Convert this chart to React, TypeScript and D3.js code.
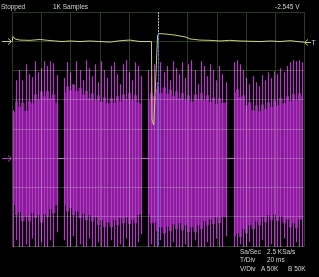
import React from "react";
import * as d3 from "d3";

// ---------------- data ----------------
const timeRangeMs = [0, 200];
const divRange = [-4, 4];
const timeGridMs = [0, 20, 40, 60, 80, 100, 120, 140, 160, 180, 200];
const divGrid = [-4, -3, -2, -1, 0, 1, 2, 3, 4];

const yellowOffsetDiv = 3;
const purpleOffsetDiv = -1;
const triggerMs = 100;

const statusText = "Stopped";
const samplesText = "1K Samples";
const readoutText = "-2.545 V";
const infoLabels = ["Sa/Sec", "T/Div", "V/Div"];
const infoValues = ["2.5 KSa/s", "20 ms", "A 50K"];
const infoExtra = ["", "", "B 50K"];

// channel A (yellow) trace, divisions relative to its ground marker
const yellowTimeMs = [0, 0.7, 2.0, 5.5, 12.3, 19.2, 24.6, 29.4, 34.2, 39.7, 46.5, 53.4, 60.2, 67.1, 72.5, 77.3, 80.7, 87.6, 94.4, 95.4, 95.8, 97.0, 99.6, 100.2, 104.7, 111.5, 118.4, 121.8, 128.6, 135.5, 142.3, 149.0, 156, 162.8, 169.7, 176.5, 183.4, 190.2, 197, 199.8];
const yellowDiv = [-0.03, 0.16, 0.08, 0.04, 0.03, 0.06, 0.03, 0.01, -0.01, 0.01, -0.01, 0.01, -0.01, -0.03, 0.01, 0.03, 0.04, -0.01, -0.01, -0.01, -2.69, -2.86, 0.18, 0.26, 0.25, 0.21, 0.15, 0.08, 0.04, 0.03, 0.01, 0.03, 0.01, 0.0, -0.01, 0.01, -0.01, 0.02, -0.02, -0.03];

// channel B (magenta) bursts, divisions relative to its ground marker
const burstStartMs = [0.82, 35.6, 93.1, 151.9];
const spikeStepMs = 2.12;

const burst1Top = [1.64, 2.67, 3.01, 2.67, 3.21, 2.87, 2.77, 3.32, 2.94, 3.08, 3.32, 3.15, 3.32, 3.25, 2.84];
const burst1DenseTop = [1.57, 1.95, 1.75, 1.9, 1.62, 1.95, 1.88, 2.18, 2.02, 2.28, 2.12, 2.3, 2.05, 2.18, 1.9];
const burst1DenseBottom = [-1.61, -1.95, -1.85, -2.15, -2.0, -2.15, -1.88, -2.05, -1.95, -2.2, -1.92, -2.0, -1.75, -1.88, -1.6];
const burst1Bottom = [-3.1, -2.8, -3.1, -3.1, -2.94, -3.1, -2.74, -3.1, -3.1, -2.87, -3.1, -3.1, -2.8, -3.1, -2.53];

const burst2Top = [2.74, 3.28, 2.94, 2.53, 3.32, 3.01, 2.67, 3.35, 3.08, 2.8, 3.21, 2.6, 3.32, 3.01, 2.74, 3.15, 3.28, 2.87, 2.53, 3.21, 3.35, 2.94, 2.67, 3.28, 3.15, 2.8];
const burst2DenseTop = [2.26, 2.45, 2.32, 2.52, 2.3, 2.4, 2.18, 2.3, 2.05, 2.22, 2.0, 2.15, 1.92, 2.08, 1.88, 2.05, 1.9, 2.12, 1.95, 2.18, 2.02, 2.22, 2.0, 2.15, 1.9, 1.85];
const burst2DenseBottom = [-1.61, -1.82, -1.7, -1.95, -1.82, -2.05, -1.9, -2.12, -1.95, -2.15, -2.02, -2.28, -2.12, -2.35, -2.2, -2.35, -2.12, -2.28, -2.05, -2.22, -2.02, -2.25, -2.1, -2.22, -1.95, -1.91];
const burst2Bottom = [-2.8, -3.1, -3.1, -2.67, -3.1, -2.94, -3.1, -3.1, -2.74, -3.1, -3.1, -2.87, -3.1, -3.1, -3.1, -2.8, -3.1, -3.1, -2.94, -3.1, -2.74, -3.1, -3.1, -3.1, -2.87, -2.6];

const burst3Top = [3.01, 2.8, 3.21, 2.6, 3.28, 2.94, 3.15, 2.67, 3.32, 3.08, 2.87, 3.28, 2.74, 3.21, 3.35, 3.01, 2.53, 3.32, 3.15, 2.8, 3.21, 3.01, 2.67, 3.15, 2.87, 2.6];
const burst3DenseTop = [1.98, 2.22, 2.12, 2.38, 2.22, 2.42, 2.2, 2.35, 2.12, 2.28, 2.05, 2.22, 2.0, 2.15, 1.95, 2.18, 2.02, 2.22, 2.0, 2.15, 1.92, 2.08, 1.85, 2.05, 1.9, 1.91];
const burst3DenseBottom = [-1.95, -2.22, -2.2, -2.48, -2.36, -2.56, -2.33, -2.49, -2.26, -2.42, -2.22, -2.46, -2.29, -2.53, -2.36, -2.53, -2.29, -2.42, -2.16, -2.29, -2.09, -2.25, -2.02, -2.22, -1.99, -2.02];
const burst3Bottom = [-3.1, -2.94, -3.1, -3.1, -2.8, -3.1, -3.1, -3.1, -2.87, -3.1, -3.1, -3.1, -2.94, -3.1, -3.1, -2.8, -3.1, -3.1, -3.1, -2.87, -3.1, -3.1, -2.74, -3.1, -3.1, -2.67];

const burst4Top = [3.28, 3.35, 3.21, 3.01, 2.74, 2.53, 2.8, 2.6, 2.46, 2.84, 2.67, 2.94, 2.74, 2.97, 2.87, 3.08, 2.94, 3.15, 3.28, 3.35, 3.32, 3.35, 3.28];
const burst4DenseTop = [2.26, 2.36, 2.09, 2.15, 1.81, 1.91, 1.64, 1.81, 1.61, 1.84, 1.68, 1.91, 1.75, 1.98, 1.81, 2.05, 1.88, 2.12, 1.95, 2.19, 1.99, 2.22, 2.12];
const burst4DenseBottom = [-2.67, -2.57, -2.7, -2.43, -2.56, -2.29, -2.42, -2.16, -2.29, -2.02, -2.19, -1.95, -2.12, -1.92, -2.15, -1.99, -2.22, -2.09, -2.36, -2.22, -2.39, -2.09, -2.12];
const burst4Bottom = [-3.1, -3.1, -2.94, -3.1, -3.1, -2.87, -3.1, -3.1, -3.1, -2.8, -3.1, -3.1, -2.94, -3.1, -3.1, -3.1, -2.74, -3.1, -3.1, -3.1, -2.87, -3.1, -3.1];

// ---------------- component ----------------
type Spike = { t: number; top: number; dTop: number; dBot: number; bot: number };

export default function App() {
  const W = 319;
  const H = 277;
  const left = 12, right = 304.3, top = 12, bottom = 246;

  const x = d3.scaleLinear().domain(timeRangeMs).range([left, right]);
  const y = d3.scaleLinear().domain(divRange).range([bottom, top]);
  const snap = (v: number) => Math.round(v) + 0.5;

  const burstArrays = [
    [burst1Top, burst1DenseTop, burst1DenseBottom, burst1Bottom],
    [burst2Top, burst2DenseTop, burst2DenseBottom, burst2Bottom],
    [burst3Top, burst3DenseTop, burst3DenseBottom, burst3Bottom],
    [burst4Top, burst4DenseTop, burst4DenseBottom, burst4Bottom],
  ];
  const bursts: Spike[][] = burstArrays.map(([tp, dt, db, bt], i) =>
    tp.map((v, k) => ({ t: burstStartMs[i] + k * spikeStepMs, top: v, dTop: dt[k], dBot: db[k], bot: bt[k] }))
  );

  const denseArea = d3
    .area<Spike>()
    .curve(d3.curveStep)
    .x((d) => snap(x(d.t)))
    .y0((d) => y(d.dBot + purpleOffsetDiv))
    .y1((d) => y(d.dTop + purpleOffsetDiv));

  const yellowPath = d3
    .line<number>()
    .x((_, i) => x(yellowTimeMs[i]))
    .y((d) => y(d + yellowOffsetDiv))(yellowDiv) as string;

  const baseY = y(purpleOffsetDiv);
  const yellowY = Math.floor(y(yellowOffsetDiv)) + 0.5;
  const purpleY = Math.floor(baseY) + 0.5;
  const trigX = snap(x(triggerMs));

  const yellow = "#c6cd76";
  const magentaFill = "#851c96";
  const magentaLine = "#b23ac2";
  const gridColor = "#2d4622";
  const textColor = "#d4d4d4";
  const font = "'Liberation Sans', Arial, sans-serif";

  return (
    <svg
      width={W}
      height={H}
      style={{ position: "fixed", left: 0, top: 0, background: "#000", display: "block" }}
    >
      <defs>
        <clipPath id="plotClip">
          <rect x={left} y={top} width={right - left + 1} height={bottom - top + 1} />
        </clipPath>
      </defs>
      <rect x={0} y={0} width={W} height={H} fill="#000" />

      <g clipPath="url(#plotClip)">
        {/* magenta channel */}
        {bursts.map((b, i) => (
          <path key={"a" + i} d={denseArea(b) as string} fill={magentaFill} />
        ))}
        {bursts.map((b, i) =>
          b.map((s, k) => (
            <line
              key={"s" + i + "-" + k}
              x1={snap(x(s.t))}
              x2={snap(x(s.t))}
              y1={y(s.top + purpleOffsetDiv)}
              y2={y(s.bot + purpleOffsetDiv)}
              stroke={magentaLine}
              strokeWidth={1.2}
            />
          ))
        )}
        {bursts.slice(0, -1).map((b, i) => (
          <line
            key={"g" + i}
            x1={snap(x(b[b.length - 1].t))}
            x2={snap(x(bursts[i + 1][0].t))}
            y1={purpleY}
            y2={purpleY}
            stroke={magentaLine}
            strokeWidth={1}
          />
        ))}

        {/* yellow channel */}
        <path d={yellowPath} fill="none" stroke={yellow} strokeWidth={1} />

        {/* trigger cursor */}
        <line x1={trigX} x2={trigX} y1={top} y2={y(yellowOffsetDiv + 0.26)} stroke="#9096b0" strokeWidth={1} strokeDasharray="2,1" />
        <line x1={trigX} x2={trigX} y1={y(yellowOffsetDiv + 0.26)} y2={bottom} stroke="#3446f0" strokeWidth={1} strokeDasharray="3,1" />
      </g>

      {/* graticule */}
      <g style={{ mixBlendMode: "screen" }} stroke={gridColor} strokeWidth={1} fill="none" opacity={0.85}>
        {timeGridMs.map((t) => (
          <line key={"vx" + t} x1={snap(x(t))} x2={snap(x(t))} y1={Math.floor(y(divRange[1])) + 0.5} y2={Math.floor(y(divRange[0])) + 0.5} />
        ))}
        {divGrid.map((v) => (
          <line key={"hy" + v} x1={snap(x(timeRangeMs[0]))} x2={snap(x(timeRangeMs[1]))} y1={Math.floor(y(v)) + 0.5} y2={Math.floor(y(v)) + 0.5} />
        ))}
      </g>

      {/* channel markers */}
      <path d={`M2,${yellowY} H11 M8,${yellowY - 3} L11.5,${yellowY} L8,${yellowY + 3}`} stroke={yellow} fill="none" strokeWidth={1} />
      <path d={`M2,${purpleY} H11 M8,${purpleY - 3} L11.5,${purpleY} L8,${purpleY + 3}`} stroke={magentaLine} fill="none" strokeWidth={1} />
      <path d={`M311,${yellowY + 1} H305 M308,${yellowY - 2} L304.5,${yellowY + 1} L308,${yellowY + 4}`} stroke={yellow} fill="none" strokeWidth={1} />
      <text x={311.5} y={yellowY + 3.5} fontFamily={font} fontSize={7} fill={textColor}>T</text>

      {/* status texts */}
      <g fontFamily={font} fontSize={6.5} fill={textColor}>
        <text x={1} y={8.5}>{statusText}</text>
        <text x={53} y={8.5}>{samplesText}</text>
        <text x={275} y={8.5}>{readoutText}</text>
        {infoLabels.map((l, i) => (
          <g key={l}>
            <text x={240} y={253.5 + i * 8.7}>{l}</text>
            <text x={i === 2 ? 261 : 267} y={253.5 + i * 8.7}>{infoValues[i]}</text>
            {infoExtra[i] ? <text x={288} y={253.5 + i * 8.7}>{infoExtra[i]}</text> : null}
          </g>
        ))}
      </g>
    </svg>
  );
}
